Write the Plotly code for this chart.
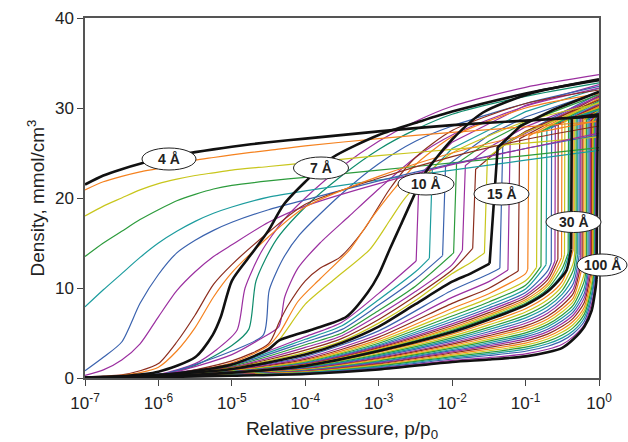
import plotly.graph_objects as go

# ------------------------------------------------------------------
# DATA  (x values are log10(p/p0); y values are density, mmol/cm3)
# ------------------------------------------------------------------
X_TICK_EXP = [-7, -6, -5, -4, -3, -2, -1, 0]
X_TICK_TEXT = ["10<sup>-7</sup>", "10<sup>-6</sup>", "10<sup>-5</sup>", "10<sup>-4</sup>",
               "10<sup>-3</sup>", "10<sup>-2</sup>", "10<sup>-1</sup>", "10<sup>0</sup>"]
Y_TICKS = [0, 10, 20, 30, 40]

# --- micropores 4 A ... 6.67 A (smooth filling) ---
MICRO_LOGP = [-7, -6.75, -6.5, -6.25, -6, -5.75, -5.5, -5.25, -5, -4.5, -4, -3, -2, -1, 0]
MICRO_WIDTHS = [4.0, 4.33, 4.67, 5.0, 5.33, 5.67, 6.0, 6.33, 6.67]
MICRO_DENS = [
    [21.5, 22.5, 23.2, 23.8, 24.3, 24.75, 25.1, 25.4, 25.7, 26.2, 26.6, 27.4, 28.1, 28.6, 29.1],
    [20.9, 21.8, 22.4, 22.9, 23.3, 23.8, 24.2, 24.5, 24.8, 25.3, 25.8, 26.6, 27.3, 27.9, 28.5],
    [18.0, 19.1, 20.0, 20.9, 21.6, 22.1, 22.5, 22.8, 23.1, 23.5, 23.9, 24.7, 25.4, 26.1, 26.8],
    [13.5, 15.0, 16.3, 17.6, 18.7, 19.7, 20.4, 21.0, 21.4, 21.9, 22.3, 23.1, 23.9, 24.7, 25.6],
    [7.9, 9.8, 11.6, 13.4, 15.0, 16.3, 17.4, 18.3, 19.0, 20.1, 20.8, 22.0, 23.1, 24.2, 25.3],
    [0.8, 2.3, 4.0, 8.3, 11.5, 13.9, 15.3, 16.4, 17.3, 18.7, 19.8, 21.9, 23.8, 25.5, 27.0],
    [0.3, 0.9, 2.0, 3.8, 6.8, 9.7, 11.8, 13.5, 14.8, 17.3, 19.1, 21.6, 23.7, 25.5, 27.2],
    [0.1, 0.2, 0.35, 0.8, 1.6, 4.0, 7.0, 10.4, 12.6, 16.2, 19.3, 22.2, 24.6, 26.5, 28.0],
    [0.08, 0.15, 0.3, 0.6, 1.2, 3.0, 5.6, 9.0, 11.7, 15.7, 19.0, 22.4, 25.0, 27.0, 28.6],
]
MICRO_COLORS = ["black", "orange", "yellow", "green", "teal", "blue", "purple", "brown", "orange"]

# --- 7 A ---
W7_LOGP = [-7, -6.5, -6, -5.5, -5.26, -5.15, -5.0, -4.75, -4.5, -4.3, -4.0, -3.63, -3.0, -2.44, -2.0, -1.0, 0]
W7_DENS = [0.05, 0.2, 0.7, 2.3, 4.8, 6.8, 10.8, 13.6, 16.4, 19.2, 21.8, 24.5, 27.0, 28.5, 29.6, 31.6, 33.2]

# --- 7 A ... 10 A ---
G2_WIDTHS = [7.375, 7.75, 8.125, 8.5, 8.875, 9.25, 9.625]
G2_LOGP = [
    [-7, -6, -5.5, -5.2, -4.93, -4.82, -4.6, -4.3, -4, -3.5, -3, -2.5, -2, -1, 0],
    [-7, -6, -5.5, -5, -4.77, -4.67, -4.4, -4, -3.5, -3, -2.5, -2, -1, 0],
    [-7, -6, -5, -4.57, -4.49, -4.3, -4.08, -3.5, -3, -2.5, -2, -1, 0],
    [-7, -6, -5, -4.6, -4.36, -4.28, -4.1, -3.8, -3.4, -3, -2.5, -2, -1, 0],
    [-7, -6, -5, -4.5, -4.35, -4.24, -4.0, -3.8, -3.53, -3.2, -2.85, -2.5, -2, -1, 0],
    [-7, -6, -5, -4.5, -4.35, -4.1, -3.8, -3.39, -3.12, -2.8, -2.5, -2, -1, 0],
    [-7, -6, -5, -4.5, -4.35, -4.0, -3.6, -3.12, -2.85, -2.66, -2.3, -2, -1, 0],
]
G2_DENS = [
    [0.04, 0.4, 1.6, 3.2, 5.3, 10.0, 14.0, 17.5, 20.0, 23.5, 26.3, 28.5, 30.2, 32.3, 33.7],
    [0.03, 0.35, 1.4, 3.6, 5.4, 10.8, 15.3, 19.0, 22.5, 25.4, 27.6, 29.3, 31.3, 32.8],
    [0.03, 0.3, 3.0, 4.8, 9.8, 13.3, 15.9, 20.5, 23.8, 26.3, 28.0, 30.5, 32.4],
    [0.03, 0.25, 2.6, 4.4, 5.7, 9.0, 12.2, 15.0, 18.0, 21.0, 24.5, 27.0, 30.2, 32.2],
    [0.02, 0.2, 1.9, 3.8, 6.3, 8.0, 10.8, 12.2, 13.4, 16.5, 21.0, 24.5, 27.5, 30.5, 32.0],
    [0.02, 0.18, 1.7, 3.6, 5.0, 8.5, 11.0, 14.3, 17.5, 20.9, 23.7, 26.8, 30.0, 31.6],
    [0.02, 0.15, 1.5, 3.2, 4.3, 8.2, 11.0, 14.3, 17.5, 19.8, 23.0, 25.0, 28.5, 30.5],
]
G2_COLORS = ["purple", "tgreen", "blue", "purple", "brown", "orange", "yellow"]

# --- 10 A ---
W10_LOGP = [-7, -6, -5, -4.5, -4.35, -3.9, -3.44, -3.15, -3.0, -2.85, -2.7, -2.5, -2.35, -2.0, -1.58, -0.9, 0]
W10_DENS = [0.02, 0.3, 1.5, 3.2, 4.2, 5.4, 6.8, 9.5, 11.5, 14.3, 17.0, 20.6, 23.0, 26.5, 29.5, 31.7, 33.1]

# --- 10 A ... 15 A (low branch / condensation step / upper branch) ---
G3_WIDTHS = [10.625, 11.25, 11.875, 12.5, 13.125, 13.75, 14.375]
G3_LOW_P = [-7, -6, -5, -4, -3.5, -3, -2.5, -2, -1.75]
G3_LOW = [
    [0.05, 0.43, 1.6, 4.6, 6.2, 9.4],
    [0.05, 0.42, 1.5, 4.3, 5.8, 8.7, 11.8],
    [0.05, 0.40, 1.4, 4.0, 5.4, 8.1, 11.0],
    [0.05, 0.39, 1.3, 3.7, 5.0, 7.5, 10.2],
    [0.05, 0.38, 1.2, 3.4, 4.7, 7.0, 9.6, 12.6],
    [0.05, 0.37, 1.15, 3.1, 4.4, 6.5, 9.1, 12.0],
    [0.05, 0.36, 1.1, 2.85, 4.1, 6.1, 8.6, 11.6, 12.8],
]
G3_PC = [-2.49, -2.31, -2.13, -1.98, -1.86, -1.72, -1.56]
G3_KINK = [13.0, 13.3, 13.6, 13.9, 14.2, 14.4, 13.9]
G3_UP_P = [[-2.45, -2, -1, 0], [-2.27, -2, -1, 0], [-2.09, -1.5, -1, 0], [-1.94, -1.5, -1, 0],
           [-1.82, -1.5, -1, 0], [-1.68, -1.3, -1, 0], [-1.52, -1.2, -1, 0]]
G3_UP = [[22.5, 26.2, 30.3, 32.6], [23.2, 25.5, 29.6, 32.2], [23.5, 27.0, 29.0, 31.8],
         [23.8, 26.3, 28.4, 31.5], [23.6, 25.6, 27.9, 31.2], [23.2, 25.8, 27.4, 30.9],
         [24.5, 26.4, 27.3, 30.6]]
G3_COLORS = ["purple", "teal", "blue", "green", "purple", "brown", "yellow"]

# --- 15 A ---
W15_LOW_P = [-7, -6, -5, -4, -3.5, -3, -2.5, -2, -1.75, -1.49]
W15_LOW = [0.05, 0.35, 1.0, 2.6, 3.9, 5.7, 8.2, 10.7, 11.6, 12.7]
W15_UP_P = [-1.49, -1.38, -1.07, -0.62, 0]
W15_UP = [12.7, 25.6, 28.0, 29.8, 31.8]

# --- 15 A ... 30 A ---
G4_WIDTHS = list(range(16, 30))
G4_LOW_P = [-7, -6, -5, -4, -3, -2, -1.5, -1, -0.7, -0.5]
G4_LOW = [
    [.09, .32, .93, 2.39, 5.24, 9.75, 11.56],
    [.08, .30, .88, 2.21, 4.86, 8.96, 10.71],
    [.08, .29, .83, 2.06, 4.54, 8.29, 9.98],
    [.07, .27, .79, 1.94, 4.27, 7.73, 9.37, 11.6],
    [.07, .26, .76, 1.84, 4.05, 7.28, 8.88, 10.8],
    [.07, .25, .73, 1.75, 3.86, 6.89, 8.45, 10.3],
    [.06, .24, .70, 1.68, 3.70, 6.56, 8.09, 9.9],
    [.06, .23, .68, 1.61, 3.57, 6.28, 7.78, 9.5, 11.9],
    [.06, .22, .67, 1.56, 3.45, 6.02, 7.51, 9.2, 11.3],
    [.06, .22, .65, 1.51, 3.34, 5.80, 7.26, 8.95, 10.9],
    [.05, .21, .64, 1.46, 3.24, 5.60, 7.05, 8.7, 10.5],
    [.05, .21, .62, 1.43, 3.16, 5.44, 6.87, 8.5, 10.2, 12.9],
    [.05, .20, .61, 1.40, 3.09, 5.30, 6.71, 8.3, 9.9, 12.2],
    [.05, .20, .61, 1.37, 3.04, 5.18, 6.59, 8.2, 9.75, 11.6],
]
G4_PC = [-1.35, -1.24, -1.10, -0.97, -0.85, -0.79, -0.72, -0.65, -0.60, -0.56, -0.51, -0.47, -0.42, -0.40]
G4_KINK = [12.2, 12.0, 11.9, 12.1, 12.3, 12.4, 12.6, 12.8, 13.0, 13.2, 13.4, 13.7, 13.9, 14.1]
G4_TOP_P = [-1.31, -1.21, -1.08, -0.955, -0.84, -0.78, -0.71, -0.645, -0.595, -0.555, -0.505, -0.465, -0.415, -0.395]
G4_TOP = [26.0, 26.3, 26.6, 26.9, 27.2, 27.4, 27.6, 27.8, 28.0, 28.2, 28.4, 28.5, 28.7, 28.8]
G4_END = [31.6, 31.4, 31.3, 31.1, 31.0, 30.8, 30.7, 30.5, 30.4, 30.3, 30.1, 30.0, 29.9, 29.8]

# --- 30 A ---
W30_LOW_P = [-7, -6, -5, -4, -3, -2, -1.5, -1, -0.7, -0.5, -0.44, -0.38]
W30_LOW = [0.05, 0.2, 0.6, 1.35, 3.0, 5.1, 6.5, 8.1, 9.6, 11.3, 12.0, 14.3]
W30_UP_P = [-0.38, -0.37, 0]
W30_UP = [14.3, 28.9, 29.3]

# --- 30 A ... 100 A ---
G5_WIDTHS = [32, 34, 36, 38, 40, 42, 45, 48, 51, 54, 57, 60, 64, 68, 72, 76, 80, 85, 90, 95]
G5_LOW_P = [-7, -6, -5, -4, -3, -2, -1.5, -1, -0.7, -0.5, -0.35, -0.2, -0.1, -0.05]
G5_LOW = [
    [.05, .19, .58, 1.29, 2.86, 4.87, 6.19, 7.70, 9.13, 10.74],
    [.05, .19, .55, 1.23, 2.72, 4.65, 5.90, 7.33, 8.69, 10.23, 12.8],
    [.05, .18, .53, 1.18, 2.60, 4.45, 5.63, 6.99, 8.28, 9.75, 12.0],
    [.05, .18, .51, 1.13, 2.49, 4.27, 5.39, 6.68, 7.91, 9.31, 11.2],
    [.05, .17, .49, 1.08, 2.38, 4.09, 5.14, 6.36, 7.54, 8.88, 10.5],
    [.05, .17, .48, 1.03, 2.27, 3.92, 4.92, 6.08, 7.20, 8.48, 9.9],
    [.05, .16, .46, .99, 2.17, 3.76, 4.70, 5.79, 6.87, 8.08, 9.4],
    [.05, .16, .44, .95, 2.08, 3.61, 4.50, 5.54, 6.56, 7.72, 8.9],
    [.05, .15, .43, .91, 1.99, 3.46, 4.30, 5.28, 6.26, 7.36, 8.5, 11.6],
    [.05, .15, .41, .86, 1.89, 3.31, 4.10, 5.02, 5.96, 7.01, 8.1, 10.8],
    [.05, .14, .40, .83, 1.81, 3.17, 3.92, 4.79, 5.69, 6.69, 7.7, 10.0],
    [.05, .14, .38, .79, 1.73, 3.04, 3.74, 4.57, 5.42, 6.37, 7.35, 9.4],
    [.05, .13, .37, .76, 1.65, 2.91, 3.56, 4.34, 5.15, 6.05, 7.0, 8.9],
    [.04, .13, .36, .72, 1.57, 2.78, 3.39, 4.11, 4.88, 5.74, 6.65, 8.4],
    [.04, .13, .34, .68, 1.48, 2.64, 3.21, 3.88, 4.61, 5.42, 6.3, 7.9, 11.4],
    [.04, .12, .33, .65, 1.40, 2.51, 3.03, 3.65, 4.34, 5.10, 5.95, 7.5, 10.6],
    [.04, .12, .31, .61, 1.32, 2.38, 2.85, 3.43, 4.07, 4.78, 5.6, 7.1, 10.0],
    [.04, .11, .30, .58, 1.24, 2.25, 2.67, 3.20, 3.80, 4.46, 5.25, 6.7, 9.4],
    [.04, .11, .29, .54, 1.16, 2.11, 2.50, 2.97, 3.53, 4.15, 4.95, 6.3, 8.9],
    [.04, .11, .27, .50, 1.05, 1.95, 2.27, 2.69, 3.19, 3.75, 4.6, 5.95, 8.3, 10.5],
]
G5_PC = [-0.352, -0.331, -0.311, -0.290, -0.270, -0.249, -0.229, -0.208, -0.188, -0.168,
         -0.150, -0.134, -0.117, -0.102, -0.089, -0.076, -0.065, -0.056, -0.048, -0.041]
G5_KINK = [14.2, 14.0, 13.9, 13.7, 13.6, 13.4, 13.3, 13.1, 13.0, 12.8,
           12.7, 12.5, 12.4, 12.2, 12.1, 12.0, 11.9, 11.8, 11.7, 11.6]
G5_TOP = [28.9, 28.9, 28.9, 28.8, 28.8, 28.8, 28.8, 28.7, 28.7, 28.7,
          28.7, 28.7, 28.6, 28.6, 28.6, 28.6, 28.6, 28.6, 28.6, 28.6]
G5_END = [30.2, 30.1, 30.0, 30.0, 29.9, 29.8, 29.8, 29.7, 29.7, 29.6,
          29.6, 29.5, 29.5, 29.4, 29.4, 29.3, 29.3, 29.3, 29.2, 29.2]

# --- 100 A ---
W100_LOW_P = [-7, -6, -5, -4, -3, -2, -1.5, -1, -0.7, -0.5, -0.35, -0.2, -0.1, -0.05, -0.033]
W100_LOW = [0.04, 0.10, 0.25, 0.45, 0.95, 1.78, 2.05, 2.40, 2.85, 3.35, 4.3, 5.7, 7.5, 9.8, 11.0]
W100_UP_P = [-0.033, -0.018, 0]
W100_UP = [11.0, 28.6, 29.0]

LABEL_TEXT = ["4 Å", "7 Å", "10 Å", "15 Å", "30 Å", "100 Å"]

# ------------------------------------------------------------------
# STYLE
# ------------------------------------------------------------------
COLORS = {
    "black": "#111111", "orange": "#F5821F", "yellow": "#C8C61C", "green": "#2C9B3C",
    "tgreen": "#0F8C6C", "teal": "#1C9C9E", "blue": "#3A62AE", "purple": "#9B2FA0",
    "brown": "#8C2D1E",
}
CYCLE = ["orange", "yellow", "green", "teal", "blue", "purple", "brown"]
THIN = 1.2
THICK = 2.6
FONT = "Liberation Sans, Arial, Helvetica, sans-serif"

fig = go.Figure()


def P(logs):
    return [10 ** v for v in logs]


def line(xlog, y, color, width, shape="spline"):
    fig.add_trace(go.Scatter(
        x=P(xlog), y=y, mode="lines", hoverinfo="skip", showlegend=False,
        line=dict(color=COLORS[color], width=width, shape=shape, smoothing=0.7)))


def step_curve(low_p, low, pc, kink, up_p, up, color, width):
    lp = list(low_p[:len(low)]) + [pc]
    ly = list(low) + [kink]
    line(lp, ly, color, width, "spline")
    line([pc] + list(up_p), [kink] + list(up), color, width, "linear")


# 30-100 A family
for i, row in enumerate(G5_LOW):
    c = CYCLE[i % len(CYCLE)]
    step_curve(G5_LOW_P, row, G5_PC[i], G5_KINK[i], [G5_PC[i], 0], [G5_TOP[i], G5_END[i]], c, THIN)

# 15-30 A family
for i, row in enumerate(G4_LOW):
    c = CYCLE[(i + 4) % len(CYCLE)]
    step_curve(G4_LOW_P, row, G4_PC[i], G4_KINK[i], [G4_TOP_P[i], 0], [G4_TOP[i], G4_END[i]], c, THIN)

# 10-15 A family
for i, row in enumerate(G3_LOW):
    step_curve(G3_LOW_P, row, G3_PC[i], G3_KINK[i], G3_UP_P[i], G3_UP[i], G3_COLORS[i], THIN)

# 7-10 A family
for i in range(len(G2_LOGP)):
    line(G2_LOGP[i], G2_DENS[i], G2_COLORS[i], THIN)

# 4-7 A family (colored)
for i in range(1, len(MICRO_DENS)):
    line(MICRO_LOGP, MICRO_DENS[i], MICRO_COLORS[i], THIN)

# labelled (black) isotherms
line(MICRO_LOGP, MICRO_DENS[0], "black", THICK)
line(W7_LOGP, W7_DENS, "black", THICK)
line(W10_LOGP, W10_DENS, "black", THICK)
step_curve(W15_LOW_P, W15_LOW, W15_UP_P[0], W15_UP[0], W15_UP_P[1:], W15_UP[1:], "black", THICK)
step_curve(W30_LOW_P, W30_LOW, W30_UP_P[0], W30_UP[0], W30_UP_P[1:], W30_UP[1:], "black", THICK)
step_curve(W100_LOW_P, W100_LOW, W100_UP_P[0], W100_UP[0], W100_UP_P[1:], W100_UP[1:], "black", THICK)

# ------------------------------------------------------------------
# LAYOUT
# ------------------------------------------------------------------
W, H = 628, 442
ML, MR, MT, MB = 85, 29, 18, 64
PW, PH = W - ML - MR, H - MT - MB

# label ellipses (pixel centre, width, height) -> paper coordinates
LABEL_BOX = [(169, 159, 54, 22), (321, 168, 55, 22), (426, 184, 56, 22),
             (501.5, 194, 55, 22), (573.5, 222, 55, 21), (602, 265, 50, 22)]
shapes, annos = [], []
for txt, (cx, cy, bw, bh) in zip(LABEL_TEXT, LABEL_BOX):
    shapes.append(dict(type="circle", xref="paper", yref="paper", layer="above",
                       x0=(cx - bw / 2 - ML) / PW, x1=(cx + bw / 2 - ML) / PW,
                       y0=(MT + PH - (cy + bh / 2)) / PH, y1=(MT + PH - (cy - bh / 2)) / PH,
                       line=dict(color="#222222", width=1), fillcolor="white"))
    annos.append(dict(xref="paper", yref="paper", x=(cx - ML) / PW, y=(MT + PH - cy) / PH,
                      xanchor="center", yanchor="middle",
                      text="<b>" + txt + "</b>", showarrow=False,
                      font=dict(family=FONT, size=14, color="#222222")))

fig.update_layout(
    width=W, height=H, margin=dict(l=ML, r=MR, t=MT, b=MB, autoexpand=False),
    paper_bgcolor="white", plot_bgcolor="white",
    font=dict(family=FONT, color="#222222"),
    shapes=shapes, annotations=annos, showlegend=False,
)
fig.update_xaxes(
    type="log", range=[-7, 0], tickvals=[10 ** e for e in X_TICK_EXP], ticktext=X_TICK_TEXT,
    ticks="outside", ticklen=6, tickwidth=1, tickcolor="#444", ticklabelstandoff=3,
    showline=True, linecolor="#555", linewidth=1.5, mirror=True, automargin=False,
    showgrid=False, zeroline=False, tickfont=dict(size=17),
    title=dict(text="Relative pressure, p/p<sub>0</sub>", font=dict(size=19), standoff=13),
)
fig.update_yaxes(
    range=[0, 40], tickvals=Y_TICKS,
    ticks="outside", ticklen=6, tickwidth=1, tickcolor="#444",
    showline=True, linecolor="#555", linewidth=1.5, mirror=True, automargin=False,
    showgrid=False, zeroline=False, tickfont=dict(size=17),
    title=dict(text="Density, mmol/cm<sup>3</sup>", font=dict(size=19), standoff=5),
)

fig.write_html("out.html")
